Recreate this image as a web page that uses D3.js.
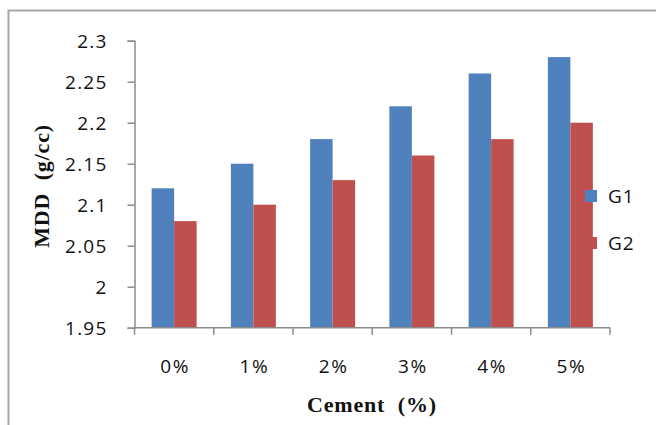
<!DOCTYPE html>
<html>
<head>
<meta charset="utf-8">
<script src="https://cdn.jsdelivr.net/npm/d3@7"></script>
<style>
  html, body { margin: 0; padding: 0; background: #fff; }
  svg { display: block; }
  .title { white-space: pre; }
</style>
</head>
<body>
<svg id="chart" width="656" height="425"></svg>
<script>
// Maximum dry density by cement content, two soil groups
const categories = ["0%", "1%", "2%", "3%", "4%", "5%"];
const seriesNames = ["G1", "G2"];
const g1Values = [2.12, 2.15, 2.18, 2.22, 2.26, 2.28];
const g2Values = [2.08, 2.10, 2.13, 2.16, 2.18, 2.20];
const yTicks = [1.95, 2, 2.05, 2.1, 2.15, 2.2, 2.25, 2.3];
const colors = ["#4F81BD", "#C0504D"];

const labelFont = "'Open Sans', 'DejaVu Sans', sans-serif";
const titleFont = "'Liberation Serif', 'Times New Roman', serif";

const svg = d3.select("#chart");

// outer chart frame (top and left edges visible)
svg.append("path")
  .attr("d", "M8.5,425 L8.5,10.5 L656,10.5")
  .attr("fill", "none")
  .attr("stroke", "#a6a6a6")
  .attr("stroke-width", 2);

const plot = { left: 134.5, right: 610, top: 40.7, bottom: 327.7 };

const x0 = d3.scaleBand().domain(categories).range([plot.left, plot.right]).paddingInner(0).paddingOuter(0);
const groupWidth = 45;
const x1 = d3.scaleBand().domain(seriesNames).range([0, groupWidth]);
const y = d3.scaleLinear().domain([1.95, 2.3]).range([plot.bottom, plot.top]);

const rows = categories.map((c, i) => ({ cat: c, vals: [g1Values[i], g2Values[i]] }));

// bars
const groups = svg.append("g").selectAll("g").data(rows).join("g")
  .attr("transform", d => `translate(${x0(d.cat) + (x0.bandwidth() - groupWidth) / 2},0)`);
groups.selectAll("rect").data(d => d.vals.map((v, k) => ({ k, v }))).join("rect")
  .attr("x", d => x1(seriesNames[d.k]))
  .attr("y", d => y(d.v))
  .attr("width", x1.bandwidth())
  .attr("height", d => y(1.95) - y(d.v))
  .attr("fill", d => colors[d.k]);

// y axis
const yAxis = d3.axisLeft(y).tickValues(yTicks).tickSize(7).tickPadding(20)
  .tickFormat(d => d3.format("")(+d.toFixed(2)));
const gy = svg.append("g").attr("transform", `translate(${plot.left},0)`).call(yAxis);
gy.select(".domain").attr("stroke", "#8c8c8c").attr("stroke-width", 1.5);
gy.selectAll(".tick line").attr("stroke", "#8c8c8c").attr("stroke-width", 1.5);
gy.selectAll(".tick text")
  .attr("font-family", labelFont)
  .attr("font-size", 19).attr("letter-spacing", 1.2)
  .attr("fill", "#111").attr("dy", "0.36em");

// x axis with ticks at category boundaries
const gx = svg.append("g").attr("transform", `translate(0,${plot.bottom})`);
gx.append("line").attr("x1", plot.left).attr("x2", plot.right)
  .attr("stroke", "#8c8c8c").attr("stroke-width", 1.5);
const bounds = categories.map(c => x0(c)).concat([plot.right]);
gx.selectAll("line.t").data(bounds).join("line").attr("class", "t")
  .attr("x1", d => d).attr("x2", d => d).attr("y1", 0).attr("y2", 7)
  .attr("stroke", "#8c8c8c").attr("stroke-width", 1.5);
gx.selectAll("text").data(categories).join("text")
  .attr("x", d => x0(d) + x0.bandwidth() / 2 + 1)
  .attr("y", 45)
  .attr("text-anchor", "middle")
  .attr("font-family", labelFont)
  .attr("font-size", 19).attr("letter-spacing", 1.5)
  .attr("fill", "#111")
  .text(d => d);

// axis titles
svg.append("text")
  .attr("class", "title")
  .attr("x", 372).attr("y", 412)
  .attr("text-anchor", "middle")
  .attr("font-family", titleFont)
  .attr("font-weight", "bold").attr("font-size", 22)
  .attr("letter-spacing", 0.8)
  .attr("fill", "#111")
  .text("Cement  (%)");

svg.append("text")
  .attr("class", "title")
  .attr("transform", "translate(49,186) rotate(-90)")
  .attr("text-anchor", "middle")
  .attr("font-family", titleFont)
  .attr("font-weight", "bold").attr("font-size", 22)
  .attr("letter-spacing", 0.8)
  .attr("fill", "#111")
  .text("MDD  (g/cc)");

// legend
const legend = svg.append("g");
const legendY = [190, 237];
seriesNames.forEach((name, k) => {
  legend.append("rect").attr("x", 585).attr("y", legendY[k]).attr("width", 12).attr("height", 12)
    .attr("fill", colors[k]);
  legend.append("text").attr("x", 608).attr("y", legendY[k] + 6).attr("dy", "0.36em")
    .attr("font-family", labelFont)
    .attr("font-size", 19).attr("letter-spacing", 1)
    .attr("fill", "#111").text(name);
});
</script>
</body>
</html>
